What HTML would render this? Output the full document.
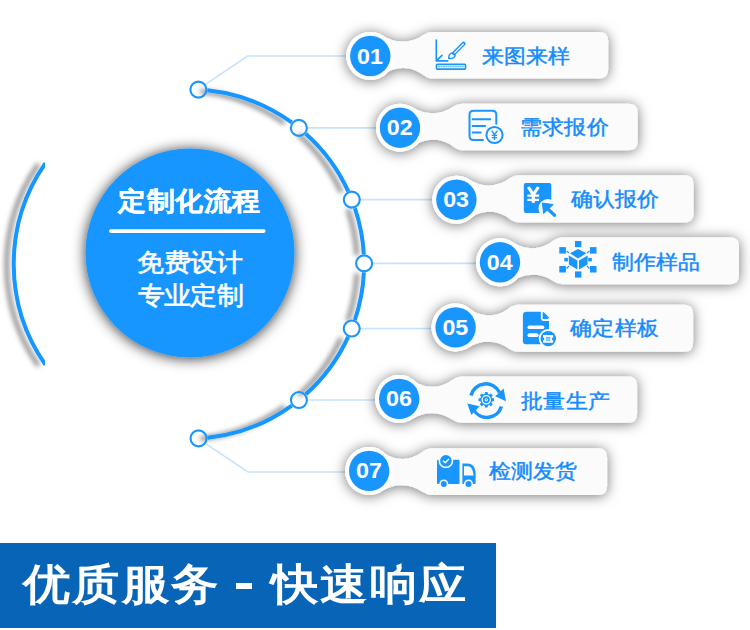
<!DOCTYPE html>
<html><head><meta charset="utf-8">
<style>
html,body{margin:0;padding:0;background:#fff;}
body{width:750px;height:630px;overflow:hidden;position:relative;font-family:"Liberation Sans",sans-serif;}
svg{position:absolute;left:0;top:0;}
</style></head><body>
<svg width="750" height="630" viewBox="0 0 750 630">
<defs>
<filter id="arcsh" filterUnits="userSpaceOnUse" x="-50" y="0" width="500" height="630">
<feDropShadow dx="-7" dy="1" stdDeviation="2.6" flood-color="#000" flood-opacity="0.5"/>
</filter>
<filter id="circsh" x="-30%" y="-30%" width="160%" height="160%">
<feDropShadow dx="0" dy="1" stdDeviation="7" flood-color="#000" flood-opacity="0.8"/>
</filter>
<filter id="pillsh" x="-20%" y="-50%" width="140%" height="200%">
<feDropShadow dx="0" dy="1" stdDeviation="6.5" flood-color="#000" flood-opacity="0.55"/>
</filter>
</defs>

<clipPath id="lclip"><rect x="0" y="0" width="45" height="630"/></clipPath>
<g clip-path="url(#lclip)"><path d="M45.49,364.83 A175.8,175.8 0 0 1 45.49,163.17" fill="none" stroke="#1996fe" stroke-width="4" filter="url(#arcsh)"/></g>
<circle cx="190" cy="253" r="104.5" fill="#1996fe" filter="url(#circsh)"/>
<path d="M204.39,85.13 L247.5,56 L346.30,56" fill="none" stroke="#c6e3fd" stroke-width="1.6"/>
<path d="M204.55,442.87 L248,472 L345.20,472" fill="none" stroke="#c6e3fd" stroke-width="1.6"/>
<path d="M307.36,127.89 L376.00,127.89" fill="none" stroke="#c6e3fd" stroke-width="1.6"/>
<path d="M360.29,199.61 L432.40,199.61" fill="none" stroke="#c6e3fd" stroke-width="1.6"/>
<path d="M372.60,263.39 L476.00,263.39" fill="none" stroke="#c6e3fd" stroke-width="1.6"/>
<path d="M360.23,328.56 L431.60,328.56" fill="none" stroke="#c6e3fd" stroke-width="1.6"/>
<path d="M307.41,400.07 L375.20,400.07" fill="none" stroke="#c6e3fd" stroke-width="1.6"/>
<g filter="url(#arcsh)">
<path d="M207.37,90.32 A174.6,174.6 0 0 1 291.70,122.44" fill="none" stroke="#1996fe" stroke-width="4"/>
<path d="M305.73,133.70 A174.6,174.6 0 0 1 348.26,191.34" fill="none" stroke="#1996fe" stroke-width="4"/>
<path d="M354.90,208.06 A174.6,174.6 0 0 1 363.84,254.40" fill="none" stroke="#1996fe" stroke-width="4"/>
<path d="M363.90,272.39 A174.6,174.6 0 0 1 354.84,320.11" fill="none" stroke="#1996fe" stroke-width="4"/>
<path d="M348.18,336.83 A174.6,174.6 0 0 1 305.77,394.25" fill="none" stroke="#1996fe" stroke-width="4"/>
<path d="M291.75,405.53 A174.6,174.6 0 0 1 207.52,437.67" fill="none" stroke="#1996fe" stroke-width="4"/>
</g>
<circle cx="198.39" cy="89.63" r="8" fill="none" stroke="#1996fe" stroke-width="2.1"/>
<circle cx="298.86" cy="127.89" r="8" fill="none" stroke="#1996fe" stroke-width="2.1"/>
<circle cx="351.79" cy="199.61" r="8" fill="none" stroke="#1996fe" stroke-width="2.1"/>
<circle cx="364.10" cy="263.39" r="8" fill="none" stroke="#1996fe" stroke-width="2.1"/>
<circle cx="351.73" cy="328.56" r="8" fill="none" stroke="#1996fe" stroke-width="2.1"/>
<circle cx="298.91" cy="400.07" r="8" fill="none" stroke="#1996fe" stroke-width="2.1"/>
<circle cx="198.55" cy="438.37" r="8" fill="none" stroke="#1996fe" stroke-width="2.1"/>
<text transform="translate(189.5,210.3) scale(1.07,1)" x="0" y="0" text-anchor="middle" font-size="26" font-weight="bold" letter-spacing="0.5" fill="#fff" stroke="#fff" stroke-width="0.3" font-family="Liberation Sans, sans-serif">定制化流程</text>
<line x1="110.8" y1="231.1" x2="263.8" y2="231.1" stroke="#fff" stroke-width="3.6" stroke-linecap="round"/>
<text transform="translate(190,270.5) scale(1.08,1)" x="0" y="0" text-anchor="middle" font-size="24.5" letter-spacing="0.3" fill="#fff" stroke="#fff" stroke-width="0.6" font-family="Liberation Sans, sans-serif">免费设计</text>
<text transform="translate(190.5,303.5) scale(1.08,1)" x="0" y="0" text-anchor="middle" font-size="24.5" letter-spacing="0.3" fill="#fff" stroke="#fff" stroke-width="0.6" font-family="Liberation Sans, sans-serif">专业定制</text>
<path d="M383.45,35.92 A35.62,35.62 0 0 0 423.30,35.05 Q427.95,31.90 432.45,31.90 L599.20,31.90 Q608.20,31.90 608.20,40.90 L608.20,69.60 Q608.20,78.60 599.20,78.60 L432.54,78.60 Q428.04,78.60 423.30,74.89 A32.47,32.47 0 0 0 388.61,71.51 A24,24 0 1 1 383.45,35.92 Z" fill="#fbfbfb" filter="url(#pillsh)"/>
<circle cx="370.3" cy="56" r="24" fill="#fff"/>
<circle cx="370.3" cy="56" r="20.2" fill="#1996fe"/>
<text transform="translate(370.00,63.50) scale(1.08,1)" x="0" y="0" text-anchor="middle" font-size="21.5" font-weight="bold" letter-spacing="0" fill="#fff" font-family="Liberation Sans, sans-serif">01</text>
<text transform="translate(481.50,62.60) scale(1.095,1)" x="0" y="0" font-size="20" letter-spacing="0.25" fill="#148bfe" stroke="#148bfe" stroke-width="0.45" font-family="Liberation Sans, sans-serif">来图来样</text>
<path d="M413.03,107.55 A36.20,36.20 0 0 0 453.00,106.87 Q457.64,103.80 462.14,103.80 L628.70,103.80 Q637.70,103.80 637.70,112.80 L637.70,141.20 Q637.70,150.20 628.70,150.20 L462.24,150.20 Q457.74,150.20 453.00,146.54 A32.68,32.68 0 0 0 418.35,143.17 A24,24 0 1 1 413.03,107.55 Z" fill="#fbfbfb" filter="url(#pillsh)"/>
<circle cx="400" cy="127.7" r="24" fill="#fff"/>
<circle cx="400" cy="127.7" r="20.2" fill="#1996fe"/>
<text transform="translate(399.70,135.20) scale(1.08,1)" x="0" y="0" text-anchor="middle" font-size="21.5" font-weight="bold" letter-spacing="0" fill="#fff" font-family="Liberation Sans, sans-serif">02</text>
<text transform="translate(520.00,134.30) scale(1.095,1)" x="0" y="0" font-size="20" letter-spacing="0.25" fill="#148bfe" stroke="#148bfe" stroke-width="0.45" font-family="Liberation Sans, sans-serif">需求报价</text>
<path d="M469.75,179.76 A34.54,34.54 0 0 0 509.40,178.52 Q514.08,175.20 518.58,175.20 L684.60,175.20 Q693.60,175.20 693.60,184.20 L693.60,213.40 Q693.60,222.40 684.60,222.40 L518.65,222.40 Q514.15,222.40 509.40,218.65 A32.27,32.27 0 0 0 466.09,221.66 A24,24 0 1 1 469.75,179.76 Z" fill="#fbfbfb" filter="url(#pillsh)"/>
<circle cx="456.4" cy="199.7" r="24" fill="#fff"/>
<circle cx="456.4" cy="199.7" r="20.2" fill="#1996fe"/>
<text transform="translate(456.10,207.20) scale(1.08,1)" x="0" y="0" text-anchor="middle" font-size="21.5" font-weight="bold" letter-spacing="0" fill="#fff" font-family="Liberation Sans, sans-serif">03</text>
<text transform="translate(570.70,206.40) scale(1.095,1)" x="0" y="0" font-size="20" letter-spacing="0.25" fill="#148bfe" stroke="#148bfe" stroke-width="0.45" font-family="Liberation Sans, sans-serif">确认报价</text>
<path d="M513.57,242.50 A33.34,33.34 0 0 0 553.00,240.83 Q557.71,237.30 562.21,237.30 L730.00,237.30 Q739.00,237.30 739.00,246.30 L739.00,275.30 Q739.00,284.30 730.00,284.30 L562.17,284.30 Q557.67,284.30 553.00,281.02 A34.80,34.80 0 0 0 518.11,278.04 A24,24 0 1 1 513.57,242.50 Z" fill="#fbfbfb" filter="url(#pillsh)"/>
<circle cx="500" cy="262.3" r="24" fill="#fff"/>
<circle cx="500" cy="262.3" r="20.2" fill="#1996fe"/>
<text transform="translate(499.70,269.80) scale(1.08,1)" x="0" y="0" text-anchor="middle" font-size="21.5" font-weight="bold" letter-spacing="0" fill="#fff" font-family="Liberation Sans, sans-serif">04</text>
<text transform="translate(611.50,268.80) scale(1.095,1)" x="0" y="0" font-size="20" letter-spacing="0.25" fill="#148bfe" stroke="#148bfe" stroke-width="0.45" font-family="Liberation Sans, sans-serif">制作样品</text>
<path d="M465.29,305.44 A32.27,32.27 0 0 0 508.60,308.45 Q513.35,304.70 517.85,304.70 L684.10,304.70 Q693.10,304.70 693.10,313.70 L693.10,342.80 Q693.10,351.80 684.10,351.80 L517.77,351.80 Q513.27,351.80 508.60,348.52 A34.80,34.80 0 0 0 468.89,347.39 A24,24 0 1 1 465.29,305.44 Z" fill="#fbfbfb" filter="url(#pillsh)"/>
<circle cx="455.6" cy="327.4" r="24" fill="#fff"/>
<circle cx="455.6" cy="327.4" r="20.2" fill="#1996fe"/>
<text transform="translate(455.30,334.90) scale(1.08,1)" x="0" y="0" text-anchor="middle" font-size="21.5" font-weight="bold" letter-spacing="0" fill="#fff" font-family="Liberation Sans, sans-serif">05</text>
<text transform="translate(570.10,334.80) scale(1.095,1)" x="0" y="0" font-size="20" letter-spacing="0.25" fill="#148bfe" stroke="#148bfe" stroke-width="0.45" font-family="Liberation Sans, sans-serif">确定样板</text>
<path d="M408.28,376.68 A33.56,33.56 0 0 0 452.20,380.09 Q456.90,376.60 461.40,376.60 L628.10,376.60 Q637.10,376.60 637.10,385.60 L637.10,413.70 Q637.10,422.70 628.10,422.70 L461.34,422.70 Q456.84,422.70 452.20,419.59 A35.90,35.90 0 0 0 412.33,418.99 A24,24 0 1 1 408.28,376.68 Z" fill="#fbfbfb" filter="url(#pillsh)"/>
<circle cx="399.2" cy="398.9" r="24" fill="#fff"/>
<circle cx="399.2" cy="398.9" r="20.2" fill="#1996fe"/>
<text transform="translate(398.90,406.40) scale(1.08,1)" x="0" y="0" text-anchor="middle" font-size="21.5" font-weight="bold" letter-spacing="0" fill="#fff" font-family="Liberation Sans, sans-serif">06</text>
<text transform="translate(521.10,407.50) scale(1.095,1)" x="0" y="0" font-size="20" letter-spacing="0.25" fill="#148bfe" stroke="#148bfe" stroke-width="0.45" font-family="Liberation Sans, sans-serif">批量生产</text>
<path d="M378.89,448.94 A32.27,32.27 0 0 0 422.20,451.95 Q426.95,448.20 431.45,448.20 L598.10,448.20 Q607.10,448.20 607.10,457.20 L607.10,485.90 Q607.10,494.90 598.10,494.90 L431.34,494.90 Q426.84,494.90 422.20,491.79 A35.90,35.90 0 0 0 382.30,491.01 A24,24 0 1 1 378.89,448.94 Z" fill="#fbfbfb" filter="url(#pillsh)"/>
<circle cx="369.2" cy="470.9" r="24" fill="#fff"/>
<circle cx="369.2" cy="470.9" r="20.2" fill="#1996fe"/>
<text transform="translate(368.90,478.40) scale(1.08,1)" x="0" y="0" text-anchor="middle" font-size="21.5" font-weight="bold" letter-spacing="0" fill="#fff" font-family="Liberation Sans, sans-serif">07</text>
<text transform="translate(488.50,478.20) scale(1.095,1)" x="0" y="0" font-size="20" letter-spacing="0.25" fill="#148bfe" stroke="#148bfe" stroke-width="0.45" font-family="Liberation Sans, sans-serif">检测发货</text>
<g fill="none" stroke="#1996fe" stroke-linecap="round" stroke-linejoin="round">
<!-- icon1 -->
<path d="M436.3,40 V60.8 H447.6" stroke-width="1.7"/>
<path d="M436.8,60.3 L442,55.3" stroke-width="1.7"/>
<rect x="436.5" y="64.4" width="29" height="4.7" rx="0.8" stroke-width="1.6"/>
<path d="M438.5,66.8 H463.5" stroke-width="0.8" stroke-dasharray="1.2,1.2"/>
<path d="M454.2,53.2 L463.6,43.6" stroke-width="4"/>
<path d="M454.6,52.8 L463.3,44" stroke="#fbfbfb" stroke-width="1.2"/>
<path d="M448.8,58.4 C448.6,55.6 449.6,53.6 452,52.9 L455.2,55.4 C454.6,57.6 452,58.8 448.8,58.4 Z" stroke-width="1.5"/>
<!-- icon2 -->
<path d="M496.3,123.8 V114.7 Q496.3,110.7 492.3,110.7 H473.5 Q469.5,110.7 469.5,114.7 V136 Q469.5,140 473.5,140 H483" stroke-width="2"/>
<path d="M472.7,119.3 H490.2 M472.7,125.9 H485.2 M472.7,132.5 H480.7" stroke-width="2"/>
<circle cx="494.5" cy="135" r="8.1" stroke-width="2"/>
<path d="M491.6,130.6 L494.5,134.6 L497.4,130.6 M494.5,134.6 V140 M491.8,135.3 H497.2 M491.8,137.7 H497.2" stroke-width="1.3" stroke-linecap="butt"/>
</g>
<!-- icon3 -->
<g>
<rect x="523.8" y="183" width="27.5" height="30" rx="2" fill="#1996fe"/>
<circle cx="548" cy="208.5" r="9.5" fill="#fbfbfb"/>
<path d="M528.2,187 L533.3,194.6 L538.4,187 M533.3,194.6 V202.7" fill="none" stroke="#fff" stroke-width="3.1"/>
<path d="M527.4,195.7 H539.1 M527.4,199.8 H539.1" fill="none" stroke="#fff" stroke-width="2.3"/>
<path d="M542.4,203 L553.2,204.6 L543.6,213.6 Z" fill="#1996fe" stroke="#1996fe" stroke-width="1" stroke-linejoin="round"/>
<path d="M547,208.3 L554.6,215.2" fill="none" stroke="#1996fe" stroke-width="3.2" stroke-linecap="round"/>
</g>
<!-- icon4 -->
<g fill="#1996fe">
<rect x="575" y="241" width="6.4" height="6.2"/>
<rect x="559.3" y="247.1" width="6.6" height="6.5"/>
<rect x="590" y="247.1" width="6.5" height="6.5"/>
<rect x="559.3" y="266" width="6.6" height="6.5"/>
<rect x="590" y="266" width="6.5" height="6.5"/>
<rect x="575" y="271.4" width="6.4" height="6.2"/>
<rect x="564.3" y="257.9" width="3.6" height="3.5"/>
<rect x="588.2" y="257.9" width="3.6" height="3.5"/>
<path d="M570,253.3 L578,248.9 L586.4,253.3 L578,258.4 Z"/>
<path d="M568.7,255.5 L577.4,260.6 L577.4,269.5 L568.9,264.4 Z"/>
<path d="M587.7,255.5 L579,260.6 L579,269.5 L587.5,264.4 Z"/>
<path d="M566.5,251 L569,253 M589.5,251 L587,253 M566.5,268.5 L569,266 M589.5,268.5 L587,266" stroke="#1996fe" stroke-width="1.2"/>
</g>
<!-- icon5 -->
<g>
<path d="M526.4,311.8 H541.4 L549,319.4 V344.3 H526 Q522.9,344.3 522.9,341.3 V315.3 Q522.9,311.8 526.4,311.8 Z" fill="#1996fe"/>
<path d="M541.8,310.5 V318.6 Q541.8,320 543.2,320 H550.5" fill="none" stroke="#fbfbfb" stroke-width="1.8"/>
<path d="M543.4,312.2 L549,317.8 L543.4,317.8 Z" fill="#1996fe" stroke="#1996fe" stroke-width="0.8" stroke-linejoin="round"/>
<rect x="527.5" y="325.4" width="16.8" height="3.7" rx="1.85" fill="#fbfbfb"/>
<rect x="527.5" y="333.2" width="11.1" height="3.9" rx="1.95" fill="#fbfbfb"/>
<circle cx="548.3" cy="338.6" r="9.6" fill="#fbfbfb"/>
<circle cx="548.3" cy="338.6" r="7.7" fill="#1996fe"/>
<path d="M543,335 H553.2 V337.6 A1.3,1.3 0 0 0 553.2,340.2 V342.8 H543 V340.2 A1.3,1.3 0 0 0 543,337.6 Z" fill="#fbfbfb"/>
<path d="M546,337.6 H550.4 M546,338.9 H550.4 M546,340.3 H550.4" stroke="#1996fe" stroke-width="0.8"/>
</g>
<!-- icon6 -->
<g fill="none" stroke="#1996fe" stroke-width="3.5">
<path d="M471,395.5 A15.2,15.2 0 0 1 499.5,392.5"/>
<path d="M501.4,406.5 A15.2,15.2 0 0 1 473.5,409.5"/>
</g>
<g fill="#1996fe">
<path d="M495.2,396.2 L503.6,388.6 L506,401.2 Z"/>
<path d="M467.3,403.4 L471.3,415 L479.6,406.3 Z"/>
<path d="M484.55,394.06 L485.06,392.00 L487.54,392.00 L488.05,394.06 L489.12,394.50 L490.94,393.41 L492.69,395.16 L491.60,396.98 L492.04,398.05 L494.10,398.56 L494.10,401.04 L492.04,401.55 L491.60,402.62 L492.69,404.44 L490.94,406.19 L489.12,405.10 L488.05,405.54 L487.54,407.60 L485.06,407.60 L484.55,405.54 L483.48,405.10 L481.66,406.19 L479.91,404.44 L481.00,402.62 L480.56,401.55 L478.50,401.04 L478.50,398.56 L480.56,398.05 L481.00,396.98 L479.91,395.16 L481.66,393.41 L483.48,394.50 Z"/>
</g>
<circle cx="486.3" cy="399.8" r="4.1" fill="none" stroke="#fbfbfb" stroke-width="1.3"/>
<circle cx="486.3" cy="399.8" r="1.6" fill="#fbfbfb"/>
<circle cx="486.3" cy="399.8" r="0.7" fill="#1996fe"/>
<!-- icon7 -->
<g>
<rect x="437" y="459.7" width="22.5" height="24.3" rx="1" fill="#1996fe"/>
<path d="M462.4,463.6 H467.5 C472.5,463.6 475.6,467.5 475.6,474 V484 H462.4 Z" fill="#1996fe"/>
<path d="M464,466.2 H468.5 Q472.6,466.4 473.6,475.4 H464 Z" fill="#fbfbfb"/>
<circle cx="445.9" cy="460.8" r="7.4" fill="#fbfbfb"/>
<circle cx="445.9" cy="460.8" r="5.8" fill="#1996fe"/>
<path d="M443.3,460.9 L445.3,462.7 L448.6,459.2" fill="none" stroke="#fff" stroke-width="1.3" stroke-linecap="round" stroke-linejoin="round"/>
<circle cx="443.8" cy="484" r="4.5" fill="#fbfbfb"/>
<circle cx="468.5" cy="484" r="4.5" fill="#fbfbfb"/>
<circle cx="443.8" cy="484" r="3" fill="#1996fe"/>
<circle cx="468.5" cy="484" r="3" fill="#1996fe"/>
</g>

</svg>
<div style="position:absolute;left:0;top:543px;width:496px;height:84.5px;background:#0864b6;"></div>
<div style="position:absolute;left:22.6px;top:549px;height:70px;line-height:70px;color:#fff;font-size:43px;font-weight:bold;letter-spacing:1.8px;white-space:nowrap;transform:scaleX(1.1);transform-origin:0 0;">优质服务</div>
<div style="position:absolute;left:236px;top:583.3px;width:16px;height:5.4px;background:#fff;"></div>
<div style="position:absolute;left:270.5px;top:549px;height:70px;line-height:70px;color:#fff;font-size:43px;font-weight:bold;letter-spacing:1.8px;white-space:nowrap;transform:scaleX(1.1);transform-origin:0 0;">快速响应</div>
</body></html>
